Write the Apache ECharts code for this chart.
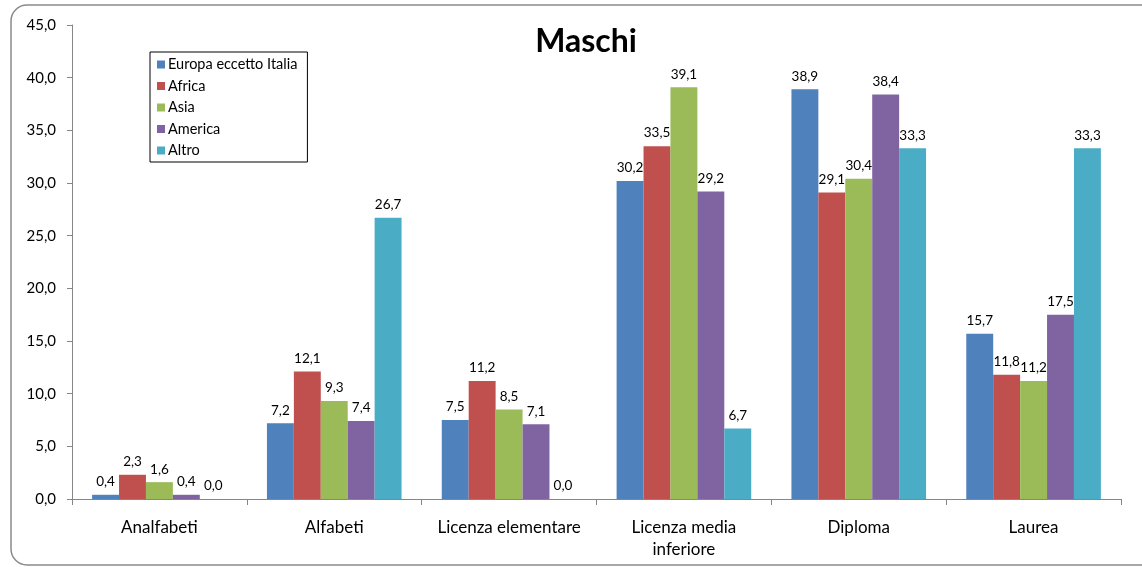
<!DOCTYPE html>
<html>
<head>
<meta charset="utf-8">
<script src="https://cdn.jsdelivr.net/npm/echarts@6/dist/echarts.min.js"></script>
<style>
  html, body { margin: 0; padding: 0; background: #fff; }
  #main { width: 1142px; height: 567px; }
</style>
</head>
<body>
<div id="main"></div>
<script>
const categories = ['Analfabeti', 'Alfabeti', 'Licenza elementare', 'Licenza media\ninferiore', 'Diploma', 'Laurea'];
const europa = [0.4, 7.2, 7.5, 30.2, 38.9, 15.7];
const africa = [2.3, 12.1, 11.2, 33.5, 29.1, 11.8];
const asia = [1.6, 9.3, 8.5, 39.1, 30.4, 11.2];
const america = [0.4, 7.4, 7.1, 29.2, 38.4, 17.5];
const altro = [0.0, 26.7, 0.0, 6.7, 33.3, 33.3];
const seriesNames = ['Europa eccetto Italia', 'Africa', 'Asia', 'America', 'Altro'];
const colors = ['#4F81BD', '#C0504D', '#9BBB59', '#8064A2', '#4BACC6'];

const font = 'Lato, "Open Sans", sans-serif';
const fmt = v => v.toFixed(1).replace('.', ',');

const chart = echarts.init(document.getElementById('main'));

const mkSeries = (name, data, i) => ({
  name,
  type: 'bar',
  data,
  barGap: '0%',
  barCategoryGap: '23%',
  itemStyle: { color: colors[i] },
  label: {
    show: true,
    position: 'top',
    distance: 6,
    color: '#000',
    fontFamily: font,
    fontSize: 13.5,
    formatter: p => fmt(p.value),
  },
});

chart.setOption({
  animation: false,
  textStyle: { fontFamily: font },
  graphic: [
    {
      type: 'rect',
      shape: { x: 11, y: 5, width: 1200, height: 560, r: 16 },
      style: { fill: 'none', stroke: '#8a8a8a', lineWidth: 1.5 },
      silent: true,
      z: -1,
    },
  ],
  title: {
    text: 'Maschi',
    left: 581,
    top: 21,
    textAlign: 'center',
    textStyle: { fontFamily: font, fontSize: 32, fontWeight: 'bold', color: '#000' },
  },
  legend: {
    data: seriesNames,
    orient: 'vertical',
    left: 150,
    top: 52,
    width: 158,
    padding: [5, 10, 4, 7],
    itemWidth: 8,
    itemHeight: 8,
    itemGap: 6.5,
    icon: 'rect',
    borderColor: '#000',
    borderWidth: 1,
    backgroundColor: '#fff',
    textStyle: { fontFamily: font, fontSize: 14.5, color: '#000', padding: [0, 0, 0, -2] },
  },
  grid: { left: 72, right: 21, top: 25, bottom: 68, containLabel: false },
  xAxis: {
    type: 'category',
    data: categories,
    axisLine: { lineStyle: { color: '#868686', width: 1 } },
    axisTick: { show: true, length: 6, interval: 0, lineStyle: { color: '#868686' } },
    axisLabel: {
      interval: 0,
      margin: 18,
      color: '#000',
      fontFamily: font,
      fontSize: 17,
      lineHeight: 22,
    },
  },
  yAxis: {
    type: 'value',
    min: 0,
    max: 45,
    interval: 5,
    splitLine: { show: false },
    axisLine: { show: true, lineStyle: { color: '#868686', width: 1 } },
    axisTick: { show: true, length: 5, lineStyle: { color: '#868686' } },
    axisLabel: {
      margin: 16,
      color: '#000',
      fontFamily: font,
      fontSize: 15,
      formatter: v => fmt(v),
    },
  },
  series: [
    mkSeries(seriesNames[0], europa, 0),
    mkSeries(seriesNames[1], africa, 1),
    mkSeries(seriesNames[2], asia, 2),
    mkSeries(seriesNames[3], america, 3),
    mkSeries(seriesNames[4], altro, 4),
  ],
});
</script>
</body>
</html>
